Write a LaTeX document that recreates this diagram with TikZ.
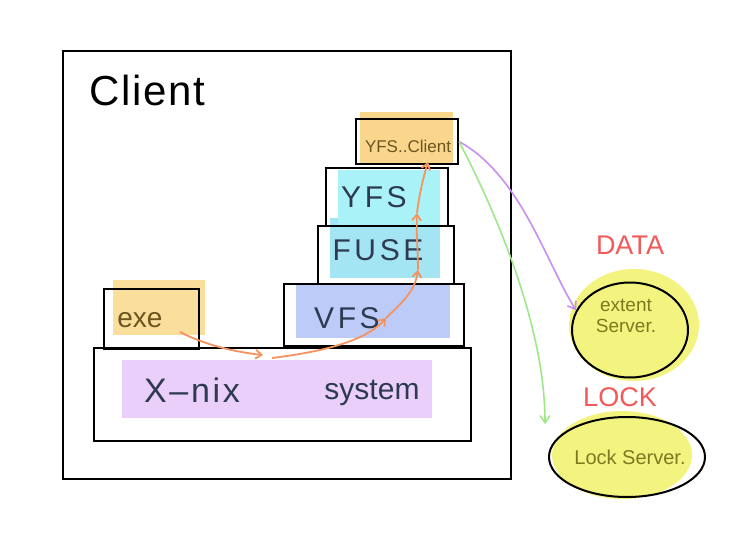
\documentclass[tikz,border=0pt]{standalone}
\usepackage{fontspec}
\setmainfont{Liberation Sans}
\usetikzlibrary{arrows.meta,shapes.geometric}
\definecolor{hlorange}{HTML}{FADF9C}
\definecolor{hlpurple}{HTML}{EACFFA}
\definecolor{hlblue}{HTML}{BDCBF9}
\definecolor{hlcyan}{HTML}{A9F3F8}
\definecolor{hlcyanb}{HTML}{A3E5F3}
\definecolor{hlyellow}{HTML}{F2F26A}
\definecolor{inkred}{HTML}{F25A5A}
\definecolor{inkorange}{HTML}{F5925E}
\definecolor{inkpurple}{HTML}{C98EF2}
\definecolor{inkgreen}{HTML}{9EE88A}
\definecolor{inktext}{HTML}{2E3A50}
\definecolor{inkbrown}{HTML}{6B5520}
\definecolor{inkolive}{HTML}{7A7A20}
\tikzset{
  hl/.style={draw=none,inner sep=0pt,anchor=north west},
  outline/.style={draw=black,line width=2pt,inner sep=0pt,anchor=north west},
  lbl/.style={text=inktext,font=\fontsize{30}{30}\selectfont\addfontfeature{LetterSpace=12}},
  flow/.style={draw=inkorange,line width=1.8pt,-{Straight Barb[length=6pt,width=9pt]}},
  link/.style={line width=1.6pt,-{Straight Barb[length=7pt,width=10pt]}},
  server/.style={ellipse,draw=black,line width=2pt,inner sep=0pt},
  tag/.style={text=inkred,font=\fontsize{27}{27}\selectfont}
}
\begin{document}
\begin{tikzpicture}[x=1pt,y=-1pt]
\useasboundingbox[fill=white] (0,0) rectangle (742,533);
% client frame
\node[outline,minimum width=448pt,minimum height=428pt] (client) at (62,50) {};
\node[anchor=west,font=\fontsize{42}{42}\selectfont\addfontfeature{LetterSpace=4}] (clientlbl) at (86,90) {Client};
% highlights
\node[hl,fill=hlorange,minimum width=92pt,minimum height=55pt] (exehl) at (113,280) {};
\node[hl,fill=hlpurple,minimum width=310pt,minimum height=58pt] (syshl) at (122,360) {};
\node[hl,fill=hlblue,minimum width=154pt,minimum height=53pt] (vfshl) at (296,285) {};
\node[hl,fill=hlcyanb,minimum width=110pt,minimum height=60pt] (fusehl) at (330,218) {};
\node[hl,fill=hlcyan,minimum width=102pt,minimum height=55pt] (yfshl) at (338,170) {};
\node[hl,fill=hlorange!90!orange,minimum width=93pt,minimum height=53pt] (yfscl) at (360,112) {};
% outlines
\node[outline,minimum width=95pt,minimum height=60pt] (exe) at (103,288) {};
\node[outline,minimum width=377pt,minimum height=93pt] (sys) at (93,347) {};
\node[outline,minimum width=180pt,minimum height=62pt] (vfs) at (283,283) {};
\node[outline,minimum width=136pt,minimum height=58pt] (fuse) at (317,225) {};
\node[outline,minimum width=122pt,minimum height=58pt] (yfs) at (325,167) {};
\node[outline,minimum width=102pt,minimum height=45pt] (yfsclient) at (355,118) {};
% labels
\node[lbl,text=inkbrown,font=\fontsize{28}{28}\selectfont] (exetxt) at (140,320) {exe};
\node[lbl,font=\fontsize{34}{34}\selectfont\addfontfeature{LetterSpace=8}] (xnix) at (192,390) {X–nix};
\node[lbl,font=\fontsize{30}{30}\selectfont] (systxt) at (372,393) {system};
\node[lbl] (vfstxt) at (347,318) {VFS};
\node[lbl] (fusetxt) at (378,250) {FUSE};
\node[lbl] (yfstxt) at (374,197) {YFS};
\node[text=inkbrown,font=\fontsize{17}{17}\selectfont] (yfscltxt) at (408,146) {YFS..Client};
% servers
\node[fill=hlyellow,opacity=0.85,ellipse,minimum width=130pt,minimum height=112pt] (exthl) at (634,325) {};
\node[server,minimum width=116pt,minimum height=95pt] (extent) at (630,330) {};
\node[text=inkolive,font=\fontsize{19}{21}\selectfont,align=center] (exttxt) at (626,316) {extent\\Server.};
\node[fill=hlyellow,opacity=0.85,ellipse,minimum width=140pt,minimum height=88pt] (lockhl) at (622,455) {};
\node[server,minimum width=156pt,minimum height=80pt] (lock) at (627,457) {};
\node[text=inkolive,font=\fontsize{20}{20}\selectfont] (locktxt) at (630,457) {Lock Server.};
\node[tag] (data) at (630,245) {DATA};
\node[tag] (locktag) at (620,397) {LOCK};
% call flow
\coordinate (f0) at (180,332);
\coordinate (f1) at (263,355);
\coordinate (f2) at (272,358);
\coordinate (f3) at (386,318);
\coordinate (f4) at (418,270);
\coordinate (f5) at (417,213);
\coordinate (f6) at (428,162);
\draw[flow] (f0) .. controls (205,345) and (235,352) .. (f1);
\draw[flow] (f2) .. controls (320,352) and (365,342) .. (f3);
\draw[flow] (f3) .. controls (405,300) and (415,290) .. (f4);
\draw[flow] (f4) .. controls (418,250) and (416,230) .. (f5);
\draw[flow] (f5) .. controls (419,195) and (424,175) .. (f6);
% links to servers
\coordinate (lockin) at (545,424);
\draw[link,draw=inkpurple] (yfsclient.east) .. controls (520,175) and (545,260) .. (extent.160);
\draw[link,draw=inkgreen] (yfsclient.east) .. controls (500,220) and (545,330) .. (lockin);
\end{tikzpicture}
\end{document}
